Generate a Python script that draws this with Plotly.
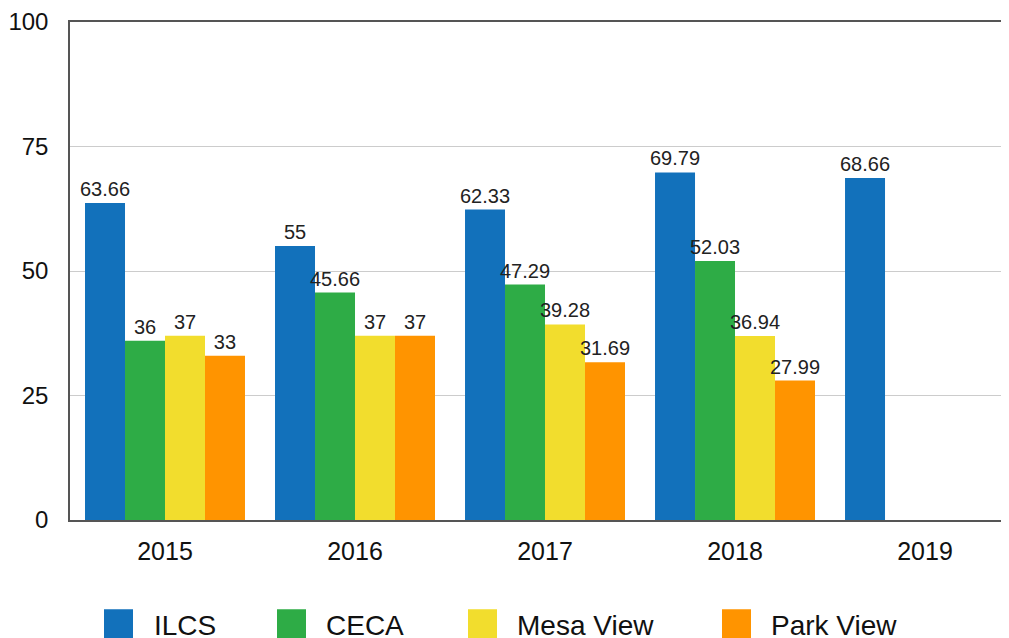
import plotly.graph_objects as go

# Chart data
years = ["2015", "2016", "2017", "2018", "2019"]
ilcs = [63.66, 55, 62.33, 69.79, 68.66]
ceca = [36, 45.66, 47.29, 52.03, None]
mesa_view = [37, 37, 39.28, 36.94, None]
park_view = [33, 37, 31.69, 27.99, None]
y_ticks = [0, 25, 50, 75, 100]

series = [
    ("ILCS", ilcs, "#1271BB"),
    ("CECA", ceca, "#2EAC46"),
    ("Mesa View", mesa_view, "#F2DD2D"),
    ("Park View", park_view, "#FF9400"),
]

font_family = "Liberation Sans, Arial, Helvetica, sans-serif"

fig = go.Figure()
for name, values, color in series:
    fig.add_trace(go.Bar(
        x=years, y=values, name=name,
        marker=dict(color=color, line=dict(width=0)),
        text=[("" if v is None else f"{v:g}") for v in values],
        textposition="outside",
        constraintext="none",
        cliponaxis=False,
        textfont=dict(size=20, color="#222222", family=font_family),
        showlegend=False,
    ))

# page has an 8px body margin, so the figure is sized to fit inside the window
W, H = 1001, 630
OFF = 8
ml, mt, mb = 62, 10, 118
plot_w, plot_h = W - ml, H - mt - mb


def px_to_paper_x(p):
    return (p - OFF - ml) / plot_w


def px_to_paper_y(p):
    return (H - mb - (p - OFF)) / plot_h


# Hand-drawn legend with large square swatches (page pixel positions)
legend_x = [(104, 152), (277, 324), (468, 515), (722, 769)]
shapes = []
annotations = []
for (name, _, color), (sx, tx) in zip(series, legend_x):
    shapes.append(dict(
        type="rect", xref="paper", yref="paper",
        x0=px_to_paper_x(sx), x1=px_to_paper_x(sx + 29),
        y0=px_to_paper_y(642), y1=px_to_paper_y(610),
        fillcolor=color, line=dict(width=0),
    ))
    annotations.append(dict(
        text=name, xref="paper", yref="paper",
        x=px_to_paper_x(tx), y=px_to_paper_y(626),
        xanchor="left", yanchor="middle", showarrow=False,
        font=dict(size=28, color="#111111", family=font_family),
    ))

# x range cut off at the right edge like the source image
fig.update_layout(
    width=W, height=H,
    margin=dict(l=ml, r=0, t=mt, b=mb),
    plot_bgcolor="white", paper_bgcolor="white",
    barmode="group", bargap=0.158, bargroupgap=0,
    font=dict(family=font_family, color="#111111"),
    shapes=shapes, annotations=annotations,
    xaxis=dict(
        range=[-0.5, 4.442], showline=True, linecolor="#555555", linewidth=1.5,
        mirror=True, showgrid=False, ticks="", ticklabelstandoff=8,
        tickfont=dict(size=25, color="#111111"),
    ),
    yaxis=dict(
        range=[0, 100], tickvals=y_ticks, showline=True, linecolor="#555555",
        linewidth=1.5, showgrid=True, gridcolor="#CCCCCC", gridwidth=1,
        zeroline=False, ticks="", ticklabelstandoff=15, ticklabeloverflow="allow",
        tickfont=dict(size=24, color="#111111"),
    ),
)

fig.write_html("out.html")
